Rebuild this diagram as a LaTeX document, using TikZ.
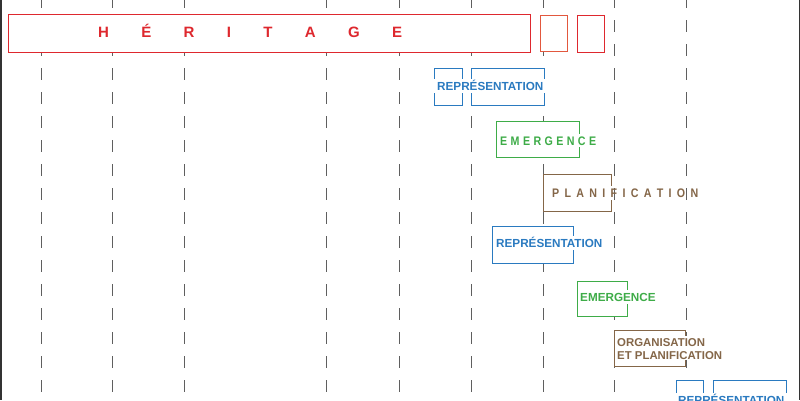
\documentclass[tikz,border=0pt]{standalone}
\usepackage{fontspec}
\setmainfont{Liberation Sans}
\definecolor{herred}{RGB}{222,40,46}
\definecolor{boxorange}{RGB}{226,88,62}
\definecolor{repblue}{RGB}{42,122,192}
\definecolor{emgreen}{RGB}{62,172,72}
\definecolor{plbrown}{RGB}{132,102,72}
\definecolor{gridgray}{RGB}{95,95,95}
\tikzset{
  gridline/.style={draw=gridgray, line width=1.1pt, dash pattern=on 12pt off 12pt, dash phase=4pt},
  framebox/.style={draw=#1, fill=white, line width=1.2pt, inner sep=0pt, anchor=north west},
  lbl/.style={text=#1, inner sep=0pt, anchor=base west, font=\bfseries\fontsize{11.7}{13}\selectfont},
  spaced/.style={text=#1, inner sep=0pt, anchor=base west, font=\bfseries\fontsize{12.4}{14}\selectfont\addfontfeature{FakeStretch=0.86}},
  gap/.style={fill=white},
}
\begin{document}
\begin{tikzpicture}[x=1pt,y=-1pt]
\clip (0,0) rectangle (800,400);
\fill[white] (0,0) rectangle (800,400);
% vertical dashed grid
\foreach \gx in {41.5,112.5,184.5,326.5,399.5,471.5,543.5,614.5,686.5}
  \draw[gridline] (\gx,0) -- (\gx,400);
% frame edges
\draw[draw=black!80, line width=1.5pt] (0.75,0) -- (0.75,400);
\draw[draw=black!80, line width=1.5pt] (799.25,0) -- (799.25,400);

% HERITAGE
\node[framebox=herred, minimum width=522pt, minimum height=38pt] (her) at (8,14) {};
\node[text=herred, inner sep=0pt, anchor=base west, font=\bfseries\fontsize{15}{17}\selectfont] (hertxt) at (98,37.6)
  {\makebox[304pt][s]{H\hfill É\hfill R\hfill I\hfill T\hfill A\hfill G\hfill E}};
\node[framebox=boxorange, minimum width=27pt, minimum height=36pt] (reda) at (540,15) {};
\node[framebox=herred, minimum width=27pt, minimum height=37pt] (redb) at (577,15) {};

% REPRESENTATION 1
\node[framebox=repblue, minimum width=28pt, minimum height=37pt] (repa) at (434,68) {};
\node[framebox=repblue, minimum width=73pt, minimum height=37pt] (repb) at (471,68) {};
\foreach \gx in {434,462,471,544} \fill[gap] (\gx-1.5,79) rectangle (\gx+1.5,93);
\node[lbl=repblue] (reptxta) at (437,90.3) {REPRÉSENTATION};

% EMERGENCE 1
\node[framebox=emgreen, minimum width=83pt, minimum height=36pt] (ema) at (496,121) {};
\fill[gap] (577.5,133.5) rectangle (580.5,147);
\node[spaced=emgreen] (ematxt) at (500,145.4)
  {\makebox[96pt][s]{E\hfill M\hfill E\hfill R\hfill G\hfill E\hfill N\hfill C\hfill E}};

% PLANIFICATION 1
\node[framebox=plbrown, minimum width=68pt, minimum height=37pt] (pla) at (543,174) {};
\fill[gap] (609.5,185.5) rectangle (612.5,200);
\node[spaced=plbrown] (platxt) at (552,197.5)
  {\makebox[146pt][s]{P\hfill L\hfill A\hfill N\hfill I\hfill F\hfill I\hfill C\hfill A\hfill T\hfill I\hfill O\hfill N}};

% REPRESENTATION 2
\node[framebox=repblue, minimum width=81pt, minimum height=37pt] (rep2) at (492,226) {};
\fill[gap] (571.5,236) rectangle (574.5,250);
\node[lbl=repblue] (rep2txt) at (496,247.6) {REPRÉSENTATION};

% EMERGENCE 2
\node[framebox=emgreen, minimum width=50pt, minimum height=35pt] (em2) at (577,281) {};
\fill[gap] (625.5,290) rectangle (628.5,304);
\node[lbl=emgreen] (em2txt) at (580,301.4) {EMERGENCE};

% ORGANISATION ET PLANIFICATION
\node[framebox=plbrown, minimum width=71pt, minimum height=36pt] (org) at (614,330) {};
\fill[gap] (683.5,336) rectangle (686.5,360);
\node[lbl=plbrown, align=left, font=\bfseries\fontsize{11.4}{13.5}\selectfont] (orgtxt) at (617,359.6) {ORGANISATION\\ET PLANIFICATION};

% REPRESENTATION 3
\node[framebox=repblue, minimum width=27pt, minimum height=40pt] (rep3a) at (676,380) {};
\node[framebox=repblue, minimum width=73pt, minimum height=40pt] (rep3b) at (713,380) {};
\foreach \gx in {676,703,713,786} \fill[gap] (\gx-1.5,393) rectangle (\gx+1.5,407);
\node[lbl=repblue] (rep3txt) at (678,404.5) {REPRÉSENTATION};
\end{tikzpicture}
\end{document}
